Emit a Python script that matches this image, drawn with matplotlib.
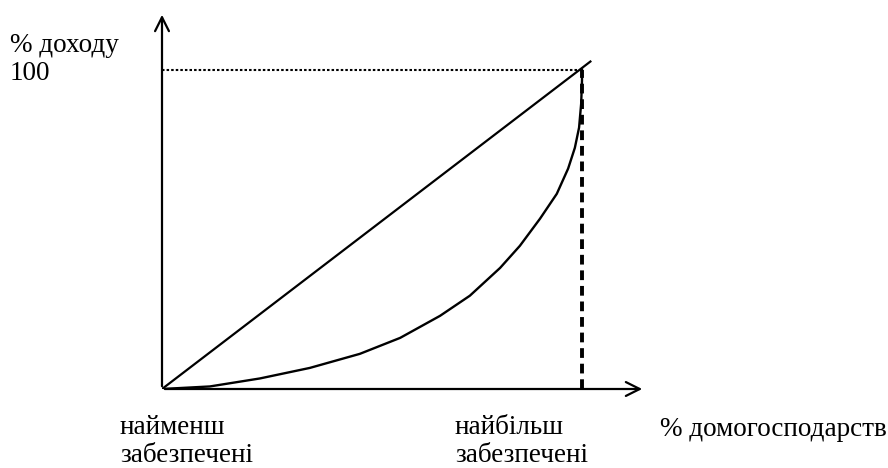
import matplotlib.pyplot as plt

plt.rcParams['font.family'] = ['Liberation Serif', 'DejaVu Serif']

# крива Лоренца (% домогосподарств, % доходу)
lorenz_x = [0, 11.4, 23.3, 35.2, 47.1, 56.7, 66.2, 73.3, 80.5, 85.2,
            90.0, 94.0, 96.7, 98.3, 99.3, 99.8, 100, 100]
lorenz_y = [0, 0.8, 3.3, 6.6, 11.0, 16.0, 22.9, 29.2, 37.9, 44.8,
            53.3, 61.1, 69.0, 75.5, 81.8, 89.3, 96.5, 100]

# лінія абсолютної рівності
equal_x = [0, 102]
equal_y = [0, 102.5]

W, H = 888, 468
fig = plt.figure(figsize=(8.88, 4.68), dpi=100)
ax = fig.add_axes([162 / W, 1 - 389 / H, 483 / W, 377 / H])
ax.set_xlim(0, 115)
ax.set_ylim(0, 118)
ax.axis('off')

# осі зі стрілками
arrow = dict(arrowstyle='->', lw=1.6, color='black', mutation_scale=25)
ax.annotate('', xy=(115, 0), xytext=(0, 0), arrowprops=arrow)
ax.annotate('', xy=(0, 118), xytext=(0, 0), arrowprops=arrow)

ax.plot(equal_x, equal_y, color='black', lw=1.6)
ax.plot(lorenz_x, lorenz_y, color='black', lw=1.7, solid_joinstyle='round')
ax.plot([0, 100], [100, 100], color='black', lw=1.5, ls=(0, (1.2, 1)))
ax.plot([100, 100], [0, 100], color='black', lw=2.8, ls=(0, (2.5, 1.5)))

def label(x, y, s, ha='left'):
    fig.text(x / W, 1 - y / H, s, ha=ha, va='center', fontsize=19.5)

label(10, 45, '% доходу')
label(10, 73, '100')
label(120, 428, 'найменш')
label(120, 456, 'забезпечені')
label(455, 428, 'найбільш')
label(455, 456, 'забезпечені')
label(660, 430, '% домогосподарств')

fig.savefig('out.png', dpi=100)
